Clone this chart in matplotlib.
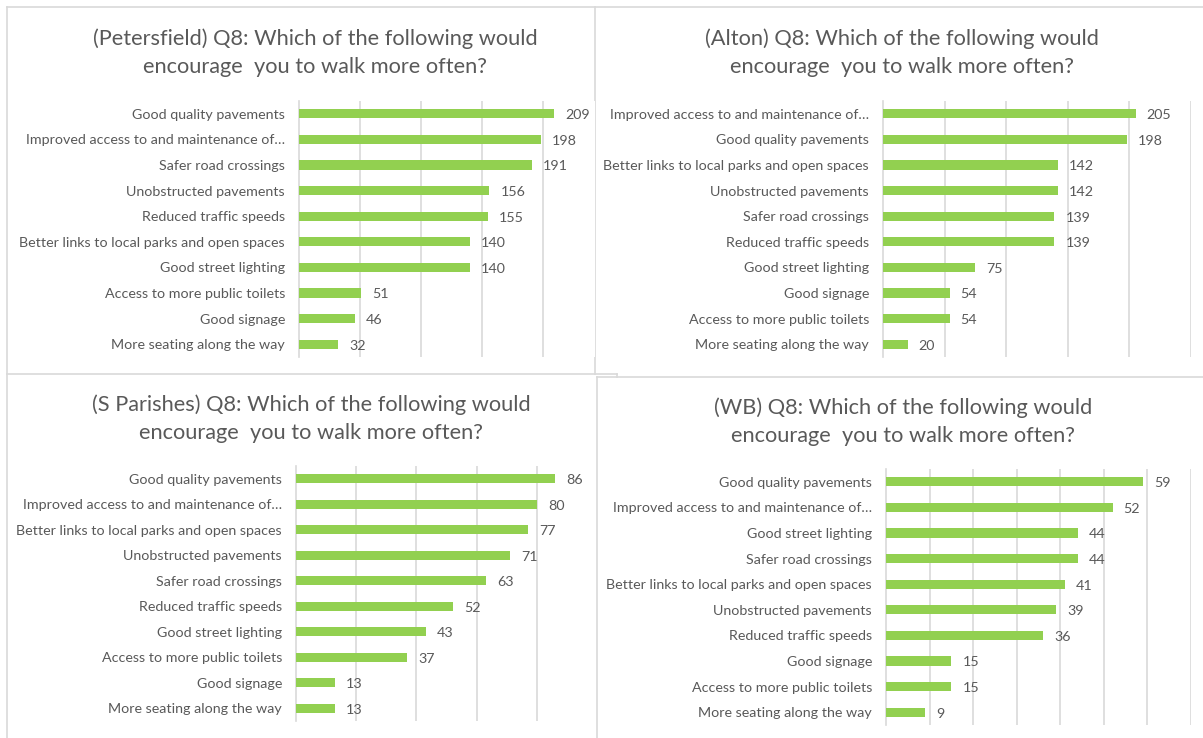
import matplotlib.pyplot as plt
from matplotlib.lines import Line2D

# ---- data (top to bottom, as shown) ----
pf_labels = ['Good quality pavements', 'Improved access to and maintenance of…',
             'Safer road crossings', 'Unobstructed pavements', 'Reduced traffic speeds',
             'Better links to local parks and open spaces', 'Good street lighting',
             'Access to more public toilets', 'Good signage', 'More seating along the way']
pf_values = [209, 198, 191, 156, 155, 140, 140, 51, 46, 32]

alton_labels = ['Improved access to and maintenance of…', 'Good quality pavements',
                'Better links to local parks and open spaces', 'Unobstructed pavements',
                'Safer road crossings', 'Reduced traffic speeds', 'Good street lighting',
                'Good signage', 'Access to more public toilets', 'More seating along the way']
alton_values = [205, 198, 142, 142, 139, 139, 75, 54, 54, 20]

sp_labels = ['Good quality pavements', 'Improved access to and maintenance of…',
             'Better links to local parks and open spaces', 'Unobstructed pavements',
             'Safer road crossings', 'Reduced traffic speeds', 'Good street lighting',
             'Access to more public toilets', 'Good signage', 'More seating along the way']
sp_values = [86, 80, 77, 71, 63, 52, 43, 37, 13, 13]

wb_labels = ['Good quality pavements', 'Improved access to and maintenance of…',
             'Good street lighting', 'Safer road crossings',
             'Better links to local parks and open spaces', 'Unobstructed pavements',
             'Reduced traffic speeds', 'Good signage', 'Access to more public toilets',
             'More seating along the way']
wb_values = [59, 52, 44, 44, 41, 39, 36, 15, 15, 9]

titles = ['(Petersfield) Q8: Which of the following would\nencourage  you to walk more often?',
          '(Alton) Q8: Which of the following would\nencourage  you to walk more often?',
          '(S Parishes) Q8: Which of the following would\nencourage  you to walk more often?',
          '(WB) Q8: Which of the following would\nencourage  you to walk more often?']

plt.rcParams['font.family'] = ['Lato', 'DejaVu Sans']

W, H = 1203, 738
TXT = '#595959'
GRID = '#D9D9D9'
GREEN = '#92D050'

fig = plt.figure(figsize=(W / 100, H / 100), dpi=100)

# panel borders (pixel coordinates)
bg = fig.add_axes([0, 0, 1, 1])
bg.set_xlim(0, W)
bg.set_ylim(H, 0)
bg.axis('off')
for (x1, y1), (x2, y2) in [((7, 7), (W, 7)), ((7, 7), (7, H)), ((595, 7), (595, 374)),
                           ((7, 374), (617, 374)), ((617, 374), (617, 377)),
                           ((597, 377), (W, 377)), ((597, 377), (597, H))]:
    bg.add_line(Line2D([x1, x2], [y1, y2], color=GRID, lw=1.2))


def px_axes(left, top, right, bottom):
    return fig.add_axes([left / W, 1 - bottom / H, (right - left) / W, (bottom - top) / H])


def draw(ax, labels, values, xmax, step, title, tx, ty):
    y = range(len(labels))
    ax.barh(y, values, height=0.36, color=GREEN, zorder=3)
    ax.set_yticks(list(y))
    ax.set_yticklabels(labels, fontsize=10.3, color=TXT)
    ax.set_ylim(len(labels) - 0.5, -0.5)
    ax.set_xlim(0, xmax)
    ax.set_xticks([step * i for i in range(1, int(xmax // step) + 1)])
    ax.xaxis.grid(True, color=GRID, lw=1.2, zorder=0)
    ax.tick_params(axis='y', length=0, pad=10)
    ax.tick_params(axis='x', length=0, labelbottom=False)
    for s in ['top', 'right', 'bottom']:
        ax.spines[s].set_visible(False)
    ax.spines['left'].set_color(GRID)
    ax.spines['left'].set_linewidth(1.2)
    for i, v in enumerate(values):
        ax.annotate(str(v), (v, i), xytext=(8, -1), textcoords='offset points',
                    va='center', ha='left', fontsize=10.3, color=TXT)
    fig.text(tx / W, 1 - ty / H, title, ha='center', va='center', fontsize=15.7,
             color=TXT, linespacing=1.5)


draw(px_axes(299, 101, 595, 357), pf_labels, pf_values, 242.6, 50, titles[0], 315, 53)
draw(px_axes(883, 101, 1191, 357), alton_labels, alton_values, 250, 50, titles[1], 902, 53)
draw(px_axes(296, 466, 596, 721), sp_labels, sp_values, 99.6, 20, titles[2], 311, 419)
draw(px_axes(886, 469, 1191, 725), wb_labels, wb_values, 70, 10, titles[3], 903, 422)

fig.savefig('out.png', dpi=100)
